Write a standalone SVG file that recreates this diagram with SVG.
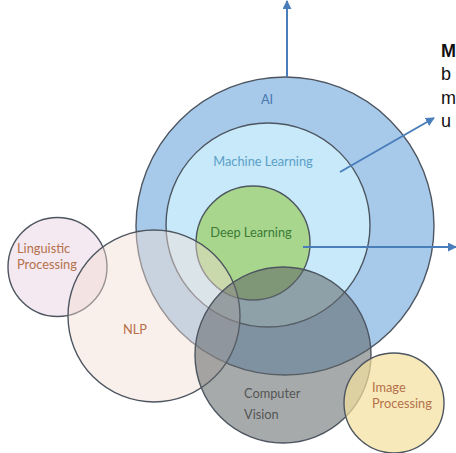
<svg xmlns="http://www.w3.org/2000/svg" width="456" height="453" viewBox="0 0 456 453">
<style>
.c{stroke:#4d5660;stroke-width:1.4}
.lbl{font-family:"Lato","Open Sans","Liberation Sans",sans-serif;font-size:12.8px}
.brown{fill:#b5714a}
.side{font-family:"Liberation Sans",Arial,sans-serif;font-size:18px;fill:#111}
.conn{stroke:#4a7ebb;stroke-width:2;fill:none;marker-end:url(#ah)}
</style>
<defs>
<marker id="ah" viewBox="0 0 10 10" refX="9" refY="5" markerWidth="4.5" markerHeight="4.5" orient="auto" markerUnits="strokeWidth">
<path d="M0,0 L10,5 L0,10 z" fill="#4a7ebb"/>
</marker>
</defs>
<rect width="456" height="453" fill="#fff"/>
<g id="ai">
<circle class="c" cx="285" cy="226" r="149" fill="#a7c9ea"/>
<text class="lbl" x="267" y="104" text-anchor="middle" fill="#4a78b0">AI</text>
</g>
<g id="ml">
<circle class="c" cx="268" cy="225" r="102" fill="#c7e9f9"/>
<text class="lbl" x="263" y="166" text-anchor="middle" fill="#5aa0c8">Machine Learning</text>
</g>
<g id="dl">
<circle class="c" cx="253" cy="243" r="57" fill="#a8d68d"/>
<text class="lbl" x="251" y="237" text-anchor="middle" fill="#3c7a36">Deep Learning</text>
</g>
<g id="linguistic">
<circle class="c" cx="57.5" cy="267" r="49.5" fill="#f1e2ee" fill-opacity="0.8"/>
<text class="lbl brown" x="17" y="253">Linguistic</text>
<text class="lbl brown" x="17" y="269">Processing</text>
</g>
<g id="nlp">
<circle class="c" cx="154" cy="316" r="86" fill="#f3ddd3" fill-opacity="0.45"/>
<text class="lbl brown" x="135" y="334" text-anchor="middle">NLP</text>
</g>
<g id="cv">
<circle class="c" cx="283" cy="355" r="88" fill="#5f6466" fill-opacity="0.55"/>
<text class="lbl" x="244" y="398" fill="#555">Computer</text>
<text class="lbl" x="244" y="419" fill="#555">Vision</text>
</g>
<g id="ip">
<circle class="c" cx="394" cy="403" r="50" fill="#f3df9c" fill-opacity="0.7"/>
<text class="lbl brown" x="372" y="392">Image</text>
<text class="lbl brown" x="372" y="408">Processing</text>
</g>
<g id="connectors">
<line class="conn" x1="287" y1="77" x2="287" y2="1"/>
<line class="conn" x1="340" y1="172" x2="434" y2="118"/>
<line class="conn" x1="303" y1="247" x2="456" y2="247"/>
</g>
<g id="sidetext">
<text class="side" x="441" y="57" font-weight="bold">M</text>
<text class="side" x="441" y="80">b</text>
<text class="side" x="441" y="104">m</text>
<text class="side" x="441" y="127">u</text>
</g>
</svg>
